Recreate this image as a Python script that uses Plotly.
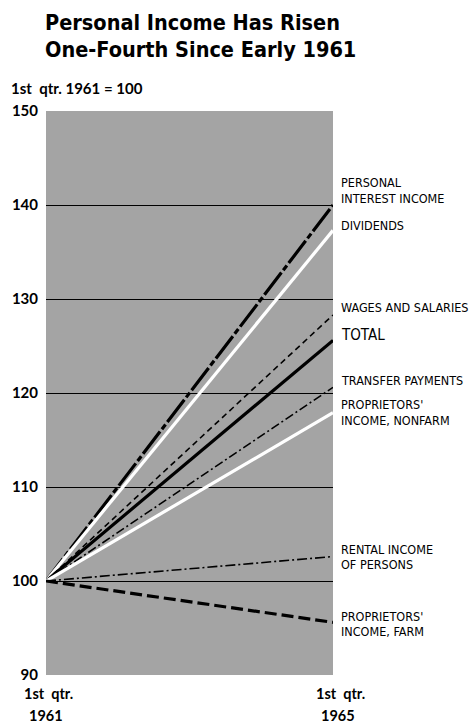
import plotly.graph_objects as go

# ---------------- data ----------------
quarters = [1961, 1965]
x_labels = ["1st qtr.", "1st qtr."]
x_years = ["1961", "1965"]

series_names = [
    "PERSONAL INTEREST INCOME",
    "DIVIDENDS",
    "WAGES AND SALARIES",
    "TOTAL",
    "TRANSFER PAYMENTS",
    "PROPRIETORS' INCOME, NONFARM",
    "RENTAL INCOME OF PERSONS",
    "PROPRIETORS' INCOME, FARM",
]
start_values = [100, 100, 100, 100, 100, 100, 100, 100]
end_values = [140.0, 137.3, 128.3, 125.6, 120.6, 117.9, 102.6, 95.6]

y_ticks = [90, 100, 110, 120, 130, 140, 150]
grid_values = [100, 110, 120, 130, 140]

# ---------------- styles ----------------
styles = [
    dict(color="black", width=3.2, dash="28px,3px,6px,3px"),
    dict(color="white", width=3.2, dash="solid"),
    dict(color="black", width=1.6, dash="6px,4px"),
    dict(color="black", width=3.2, dash="solid"),
    dict(color="black", width=1.6, dash="9px,3px,2px,3px"),
    dict(color="white", width=3.2, dash="solid"),
    dict(color="black", width=1.6, dash="10px,3px,2px,3px"),
    dict(color="black", width=3.2, dash="12px,5px"),
]

label_lines = [
    [("PERSONAL", 182), ("INTEREST INCOME", 198)],
    [("DIVIDENDS", 225)],
    [("WAGES AND SALARIES", 307)],
    [("TOTAL", 335)],
    [("TRANSFER PAYMENTS", 380)],
    [("PROPRIETORS'", 405), ("INCOME, NONFARM", 420)],
    [("RENTAL INCOME", 549), ("OF PERSONS", 564)],
    [("PROPRIETORS'", 616), ("INCOME, FARM", 631)],
]

W_FIG, H_FIG = 469, 724
L, R, T, B = 40, 333, 111, 675
PW, PH = R - L, B - T


def px_x(px):
    return (px - L) / PW


def px_y(py):
    return (B - py) / PH


COND_FONT = "DejaVu Sans Condensed, DejaVu Sans, sans-serif"
AXIS_FONT = "Lato, Open Sans, sans-serif"

fig = go.Figure()

for name, y0, y1, st in zip(series_names, start_values, end_values, styles):
    fig.add_trace(go.Scatter(
        x=quarters, y=[y0, y1], mode="lines", name=name,
        line=dict(color=st["color"], width=st["width"], dash=st["dash"]),
        hoverinfo="skip", showlegend=False,
    ))

fig.add_trace(go.Scatter(x=quarters, y=[start_values[0], start_values[0]],
                         yaxis="y2", mode="lines", line=dict(width=0),
                         opacity=0, hoverinfo="skip", showlegend=False))

annotations = []
for lines in label_lines:
    for text, py in lines:
        size = 15 if text == "TOTAL" else 12.5
        annotations.append(dict(
            text=text, xref="paper", yref="paper", x=px_x(339), y=px_y(py),
            xanchor="left", yanchor="middle", showarrow=False,
            font=dict(family=COND_FONT, size=size, color="black"),
        ))

for text, py in [("Personal Income Has Risen", 22), ("One-Fourth Since Early 1961", 50)]:
    annotations.append(dict(
        text=text, xref="paper", yref="paper", x=px_x(37), y=px_y(py),
        xanchor="left", yanchor="middle", showarrow=False,
        font=dict(family=COND_FONT, size=21.5, color="black", weight="bold"),
    ))

annotations.append(dict(
    text="1st  qtr. 1961 = 100", xref="paper", yref="paper", x=px_x(2), y=px_y(88),
    xanchor="left", yanchor="middle", showarrow=False,
    font=dict(family=AXIS_FONT, size=15, color="black", weight="bold"),
))

for xv, lab, yr, dx in zip(quarters, x_labels, x_years, [3, 8]):
    cx = L + (xv - quarters[0]) / (quarters[-1] - quarters[0]) * PW
    annotations.append(dict(
        text=lab.replace(" ", "  "), xref="paper", yref="paper", x=px_x(cx + dx), y=px_y(693),
        xanchor="center", yanchor="middle", showarrow=False,
        font=dict(family=AXIS_FONT, size=14.5, color="black", weight="bold"),
    ))
    annotations.append(dict(
        text=yr, xref="paper", yref="paper", x=px_x(cx + dx - 3), y=px_y(715),
        xanchor="center", yanchor="middle", showarrow=False,
        font=dict(family=AXIS_FONT, size=14.5, color="black", weight="bold"),
    ))

fig.update_layout(
    width=W_FIG, height=H_FIG,
    margin=dict(l=L, r=W_FIG - R, t=T, b=H_FIG - B, pad=0),
    paper_bgcolor="white", plot_bgcolor="#a4a4a4",
    xaxis=dict(range=[quarters[0], quarters[-1]], showgrid=False, zeroline=False,
               showticklabels=False, ticks="", showline=False),
    yaxis=dict(range=[90, 150], tickvals=y_ticks, ticktext=[str(v) for v in y_ticks],
               showgrid=False, zeroline=False, showline=False, ticks="",
               ticklabelstandoff=7,
               tickfont=dict(family=AXIS_FONT, size=15, color="black", weight="bold")),
    yaxis2=dict(range=[90, 150], overlaying="y", tickvals=grid_values,
                showgrid=True, gridcolor="black", gridwidth=1,
                showticklabels=False, zeroline=False, showline=False, ticks=""),
    annotations=annotations,
)

fig.write_html(
    "out.html",
    config={"displayModeBar": False},
    post_script="document.body.style.margin='0';document.body.style.overflow='hidden';",
)
